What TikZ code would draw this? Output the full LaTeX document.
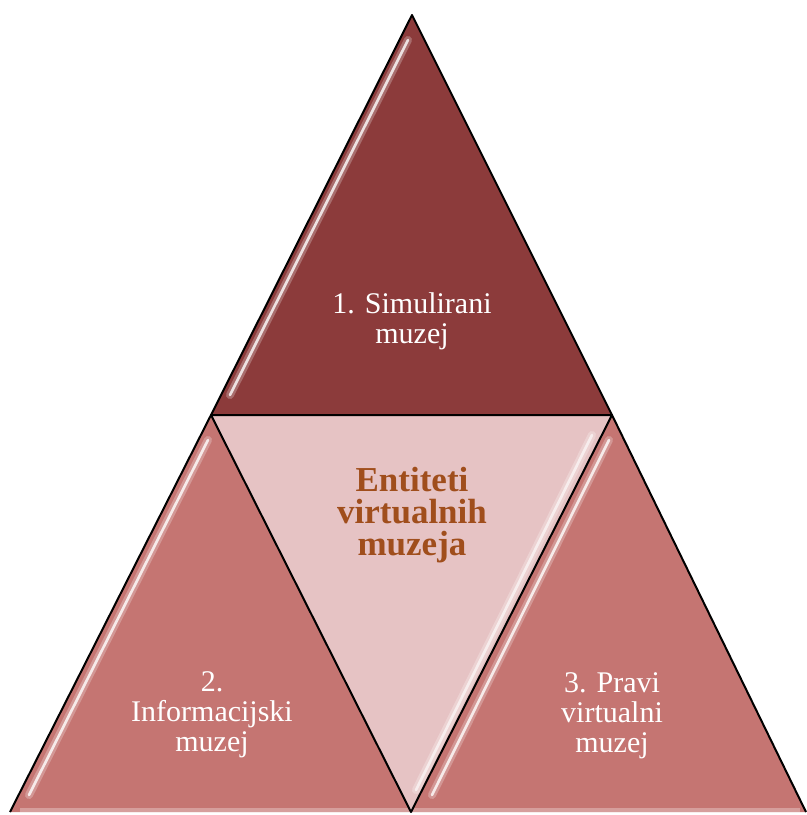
\documentclass[tikz,border=0pt]{standalone}
\usepackage{fontspec}
\setmainfont{Liberation Serif}
\definecolor{topred}{HTML}{8C3B3B}
\definecolor{sidered}{HTML}{C57572}
\definecolor{midpink}{HTML}{E6C3C4}
\definecolor{titlebrown}{HTML}{A04E1C}
\begin{document}
\begin{tikzpicture}[x=0.75pt,y=-0.75pt]
\tikzstyle{every node}=[font=\fontsize{22.5}{22.5}\selectfont, text=white, align=center]
\tikzstyle{edge}=[line width=1.5pt, line join=round]
\tikzstyle{gloss}=[white, line width=2pt, line cap=round, opacity=0.8]
\tikzstyle{glow}=[white, line width=6pt, line cap=round, opacity=0.25]

\useasboundingbox (0,0) rectangle (807,815);

% corners of the pyramid
\coordinate (apex) at (412,15);
\coordinate (midL) at (211,415);
\coordinate (midR) at (612,415);
\coordinate (baseL) at (10,812);
\coordinate (baseM) at (411,812);
\coordinate (baseR) at (806,812);

% fill the four triangles
\fill[topred] (apex) -- (midR) -- (midL) -- cycle;
\fill[sidered] (midL) -- (baseM) -- (baseL) -- cycle;
\fill[sidered] (midR) -- (baseR) -- (baseM) -- cycle;
\fill[midpink] (midL) -- (midR) -- (baseM) -- cycle;

% glossy strips along the edges
\draw[glow] (408,40) -- (230,395);
\draw[gloss] (408,40) -- (230,395);
\draw[glow] (208,440) -- (29,795);
\draw[gloss] (208,440) -- (29,795);
\draw[glow] (609,440) -- (432,795);
\draw[gloss] (609,440) -- (432,795);
\draw[glow] (592,435) -- (416,790);
\draw[gloss, opacity=0.6] (592,435) -- (416,790);
\draw[white, line width=3pt, opacity=0.3] (20,810) -- (800,810);

% outlines
\draw[edge] (baseL) -- (midL) -- (apex) -- (midR) -- (baseR);
\draw[edge] (midL) -- (midR) -- (baseM) -- cycle;

% labels
\node (simul) at (412,321) {1. Simulirani\\muzej};
\node (info) at (212,715) {2.\\Informacijski\\muzej};
\node (pravi) at (612,716) {3. Pravi\\virtualni\\muzej};
\node[font=\bfseries\fontsize{26.25}{24}\selectfont, text=titlebrown] (entit) at (412,515) {Entiteti\\virtualnih\\muzeja};

\end{tikzpicture}
\end{document}
